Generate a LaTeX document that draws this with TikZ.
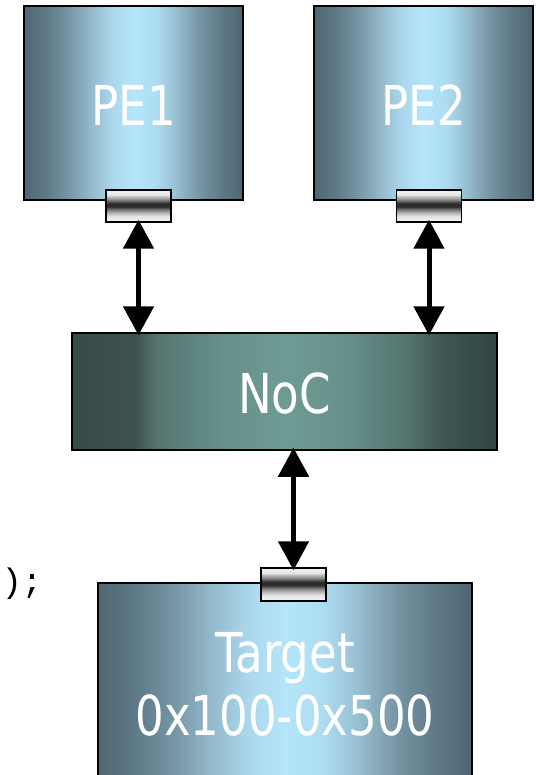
\documentclass[tikz,border=0pt]{standalone}
\usepackage{fontspec}
\newfontfamily\lblfont[FakeStretch=0.82]{DejaVu Sans}
\newfontfamily\codefont{Liberation Mono}
\usetikzlibrary{arrows.meta}
\definecolor{pa}{HTML}{4E6571}
\definecolor{pb}{HTML}{5F7A87}
\definecolor{pc}{HTML}{7794A3}
\definecolor{pd}{HTML}{96BDCF}
\definecolor{pe}{HTML}{ADDDF2}
\definecolor{pf}{HTML}{B5E5FA}
\definecolor{pg}{HTML}{ABD7EC}
\definecolor{ph}{HTML}{93B8C9}
\definecolor{pi}{HTML}{7595A4}
\definecolor{pj}{HTML}{5E7987}
\definecolor{pk}{HTML}{506773}
\pgfdeclarehorizontalshading{peshade}{100bp}{color(0bp)=(pk); color(25bp)=(pk); color(30bp)=(pj); color(35bp)=(pi); color(40bp)=(ph); color(45bp)=(pg); color(50bp)=(pf); color(55bp)=(pe); color(60bp)=(pd); color(65bp)=(pc); color(70bp)=(pb); color(75bp)=(pa); color(100bp)=(pa)}
\definecolor{na}{HTML}{364A47}
\definecolor{nb}{HTML}{3E534F}
\definecolor{nc}{HTML}{557570}
\definecolor{nd}{HTML}{66908A}
\definecolor{ne}{HTML}{6F9B95}
\definecolor{nf}{HTML}{52716C}
\definecolor{ng}{HTML}{3F5651}
\definecolor{nh}{HTML}{324542}
\pgfdeclarehorizontalshading{nocshade}{100bp}{color(0bp)=(na); color(25bp)=(na); color(32.5bp)=(nb); color(35bp)=(nc); color(42.5bp)=(nd); color(50bp)=(ne); color(57.5bp)=(nd); color(65bp)=(nf); color(68.5bp)=(ng); color(75bp)=(nh); color(100bp)=(nh)}
\definecolor{ga}{HTML}{F4F4F4}
\definecolor{gb}{HTML}{E4E4E4}
\definecolor{gc}{HTML}{ADADAD}
\definecolor{gd}{HTML}{6E6E6E}
\definecolor{ge}{HTML}{2C2C2C}
\definecolor{gf}{HTML}{8A8A8A}
\definecolor{gg}{HTML}{C4C4C4}
\definecolor{gh}{HTML}{E6E6E6}
\definecolor{gi}{HTML}{F2F2F2}
\pgfdeclareverticalshading{portshade}{100bp}{color(0bp)=(ga); color(25bp)=(ga); color(34bp)=(gb); color(40bp)=(gc); color(45bp)=(gd); color(49bp)=(ge); color(54bp)=(ge); color(60bp)=(gf); color(65bp)=(gg); color(67.5bp)=(gh); color(75bp)=(gi); color(100bp)=(gi)}
\tikzset{
  pebox/.style={draw=black, line width=1.5pt, shading=peshade, inner sep=0pt,
    text=white, font=\lblfont\fontsize{55}{63}\selectfont, align=center},
  nocbox/.style={draw=black, line width=1.5pt, shading=nocshade, inner sep=0pt,
    text=white, font=\lblfont\fontsize{55}{63}\selectfont},
  port/.style={draw=black, line width=1.5pt, shading=portshade, inner sep=0pt,
    minimum width=65pt, minimum height=32pt},
  link/.style={line width=5pt, {Triangle[width=30pt,length=29pt]}-{Triangle[width=30pt,length=29pt]},
    shorten <=-3pt, shorten >=-3pt}
}
\begin{document}
\begin{tikzpicture}[x=1pt,y=-1pt]
\useasboundingbox (0,0) rectangle (535,775);
\node[pebox, minimum width=219pt, minimum height=194pt, text height=46pt, text depth=0pt] (pe1) at (133.5,103) {PE1};
\node[pebox, minimum width=219pt, minimum height=194pt, text height=46pt, text depth=0pt] (pe2) at (423.5,103) {PE2};
\node[nocbox, minimum width=425pt, minimum height=117pt, text height=43pt, text depth=0pt] (noc) at (284.5,391.5) {NoC};
\node[pebox, minimum width=374pt, minimum height=202pt] (tgt) at (285,684) {Target\\0x100-0x500};
\node[port] (p1) at (138.5,206) {};
\node[port] (p2) at (429,206) {};
\node[port, minimum height=33pt] (pt) at (293.5,584.5) {};
\node[font=\codefont\fontsize{34}{34}\selectfont, inner sep=0pt] (code) at (22,584) {);};
\draw[link] (p1.south) -- (noc.north -| p1.south);
\draw[link] (p2.south) -- (noc.north -| p2.south);
\draw[link] (noc.south -| pt.north) -- (pt.north);
\end{tikzpicture}
\end{document}
